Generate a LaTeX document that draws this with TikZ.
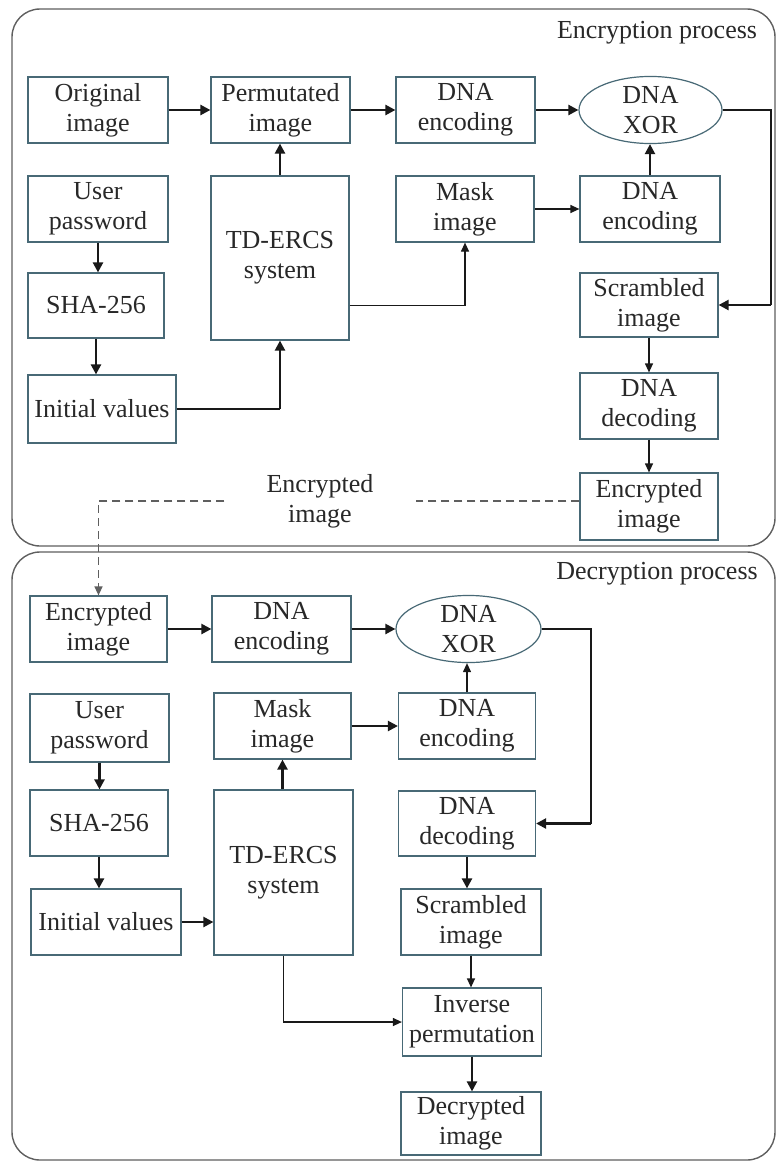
\documentclass[tikz,border=0pt]{standalone}
\usepackage{fontspec}
\setmainfont{Liberation Serif}
\usetikzlibrary{shapes.geometric,arrows.meta,calc}
\definecolor{boxc}{RGB}{72,105,118}
\definecolor{txt}{RGB}{40,40,40}
\definecolor{framec}{RGB}{95,95,95}
\definecolor{arr}{RGB}{25,25,25}
\tikzset{
  box/.style={draw=boxc, line width=1.2pt, text=txt, align=center, inner sep=0pt,
    font=\fontsize{26}{30}\selectfont},
  oval/.style={box, ellipse},
  lbl/.style={text=txt, align=center, font=\fontsize{26}{30}\selectfont},
  frame/.style={draw=framec, line width=1.4pt, rounded corners=28pt},
  tarr/.style={draw=arr, line width=2.3pt, -{Triangle[length=10pt,width=10pt]}},
  narr/.style={draw=arr, line width=1.2pt, -{Triangle[length=9pt,width=8pt]}},
  tline/.style={draw=arr, line width=2.3pt},
  nline/.style={draw=arr, line width=1.2pt},
  dline/.style={draw=framec, line width=1.3pt, dash pattern=on 8pt off 5pt},
  darr/.style={dline, -{Triangle[length=9pt,width=8pt]}},
}
\begin{document}
\begin{tikzpicture}[x=1pt,y=-1pt]
\useasboundingbox (0,0) rectangle (777,1162);
\fill[white] (0,0) rectangle (777,1162);
% frames
\draw[frame] (12,9) rectangle (775,546);
\draw[frame] (12,552) rectangle (775,1160);
\node[lbl] (tenc) at (657,33) {Encryption process};
\node[lbl] (tdec) at (657,574) {Decryption process};

% ---------- encryption ----------
\node[box, minimum width=140pt, minimum height=66pt] (orig) at (98,110) {Original\\image};
\node[box, minimum width=139pt, minimum height=66pt] (perm) at (280.5,110) {Permutated\\image};
\node[box, minimum width=139pt, minimum height=66pt] (enc1) at (465.5,110) {DNA\\encoding};
\node[oval, minimum width=143pt, minimum height=66pt] (xor1) at (650.5,110) {DNA\\XOR};
\node[box, minimum width=140pt, minimum height=66pt] (user1) at (98,209) {User\\password};
\node[box, minimum width=138pt, minimum height=164pt] (td1) at (280,258) {TD-ERCS\\system};
\node[box, minimum width=138pt, minimum height=66pt] (mask1) at (465,209) {Mask\\image};
\node[box, minimum width=140pt, minimum height=66pt] (enc2) at (650,209) {DNA\\encoding};
\node[box, minimum width=136pt, minimum height=65pt] (sha1) at (96,305.5) {SHA-256};
\node[box, minimum width=148pt, minimum height=68pt] (init1) at (102,409) {Initial values};
\node[box, minimum width=138pt, minimum height=64pt] (scr1) at (649,305) {Scrambled\\image};
\node[box, minimum width=138pt, minimum height=66pt] (dec1) at (649,406) {DNA\\decoding};
\node[box, minimum width=138pt, minimum height=67pt] (encr1) at (649,506.5) {Encrypted\\image};
\node[lbl, inner xsep=42pt] (mid) at (320,501) {Encrypted\\image};
\coordinate (r1) at (771,0);

\draw[tarr] (orig.east) -- (perm.west);
\draw[tarr] (perm.east) -- (enc1.west);
\draw[tarr] (enc1.east) -- (xor1.west);
\draw[tarr] (td1.north) -- (td1.north |- perm.south);
\draw[tarr] (enc2.north) -- (enc2.north |- xor1.south);
\draw[narr] (mask1.east) -- (enc2.west);
\draw[tarr] (user1.south) -- (user1.south |- sha1.north);
\draw[tarr] (sha1.south) -- (sha1.south |- init1.north);
\draw[nline] (init1.east) -- (init1.east -| td1.south);
\draw[tarr] (init1.east -| td1.south) -- (td1.south);
\draw[narr] (td1.east |- sha1) -| (mask1.south);
\draw[nline] (xor1.east) -- (r1 |- xor1.east) -- (r1 |- scr1.east);
\draw[tarr] (r1 |- scr1.east) -- (scr1.east);
\draw[narr] (scr1.south) -- (dec1.north);
\draw[narr] (dec1.south) -- (encr1.north);
\draw[dline] (encr1.west |- mid) -- (mid.east);

% ---------- decryption ----------
\node[box, minimum width=137pt, minimum height=66pt] (encr2) at (98.5,629) {Encrypted\\image};
\node[box, minimum width=139pt, minimum height=66pt] (enc3) at (281.5,629) {DNA\\encoding};
\node[oval, minimum width=145pt, minimum height=65pt] (xor2) at (468.5,629) {DNA\\XOR};
\node[box, minimum width=139pt, minimum height=68pt] (user2) at (99.5,728) {User\\password};
\node[box, minimum width=137pt, minimum height=66pt] (mask2) at (282.5,726) {Mask\\image};
\node[box, minimum width=137pt, minimum height=66pt] (enc4) at (467,726) {DNA\\encoding};
\node[box, minimum width=138pt, minimum height=66pt] (sha2) at (99,823) {SHA-256};
\node[box, minimum width=139pt, minimum height=165pt] (td2) at (283.5,872.5) {TD-ERCS\\system};
\node[box, minimum width=137pt, minimum height=65pt] (dec2) at (467,823.5) {DNA\\decoding};
\node[box, minimum width=150pt, minimum height=66pt] (init2) at (106,922) {Initial values};
\node[box, minimum width=140pt, minimum height=66pt] (scr2) at (471,922) {Scrambled\\image};
\node[box, minimum width=139pt, minimum height=68pt] (inv2) at (472,1022) {Inverse\\permutation};
\node[box, minimum width=140pt, minimum height=63pt] (decr2) at (471,1123.5) {Decrypted\\image};
\coordinate (r2) at (591,0);

\draw[darr] (mid.west) -| (encr2.north);
\draw[tarr] (encr2.east) -- (enc3.west);
\draw[tarr] (enc3.east) -- (xor2.west);
\draw[narr] (enc4.north) -- (enc4.north |- xor2.south);
\draw[tarr] (mask2.east) -- (mask2.east -| enc4.west);
\draw[tarr] (td2.north -| mask2.south) -- (mask2.south);
\draw[tarr] (user2.south) -- (user2.south |- sha2.north);
\draw[tarr] (sha2.south) -- (sha2.south |- init2.north);
\draw[tarr] (init2.east) -- (init2.east -| td2.west);
\draw[nline] (xor2.east) -- (r2 |- xor2.east) -- (r2 |- dec2.east);
\draw[tarr] (r2 |- dec2.east) -- (dec2.east);
\draw[tarr] (dec2.south) -- (dec2.south |- scr2.north);
\draw[narr] (scr2.south) -- (scr2.south |- inv2.north);
\draw[narr] (td2.south) |- (inv2.west);
\draw[tarr] (inv2.south) -- (inv2.south |- decr2.north);
\end{tikzpicture}
\end{document}
